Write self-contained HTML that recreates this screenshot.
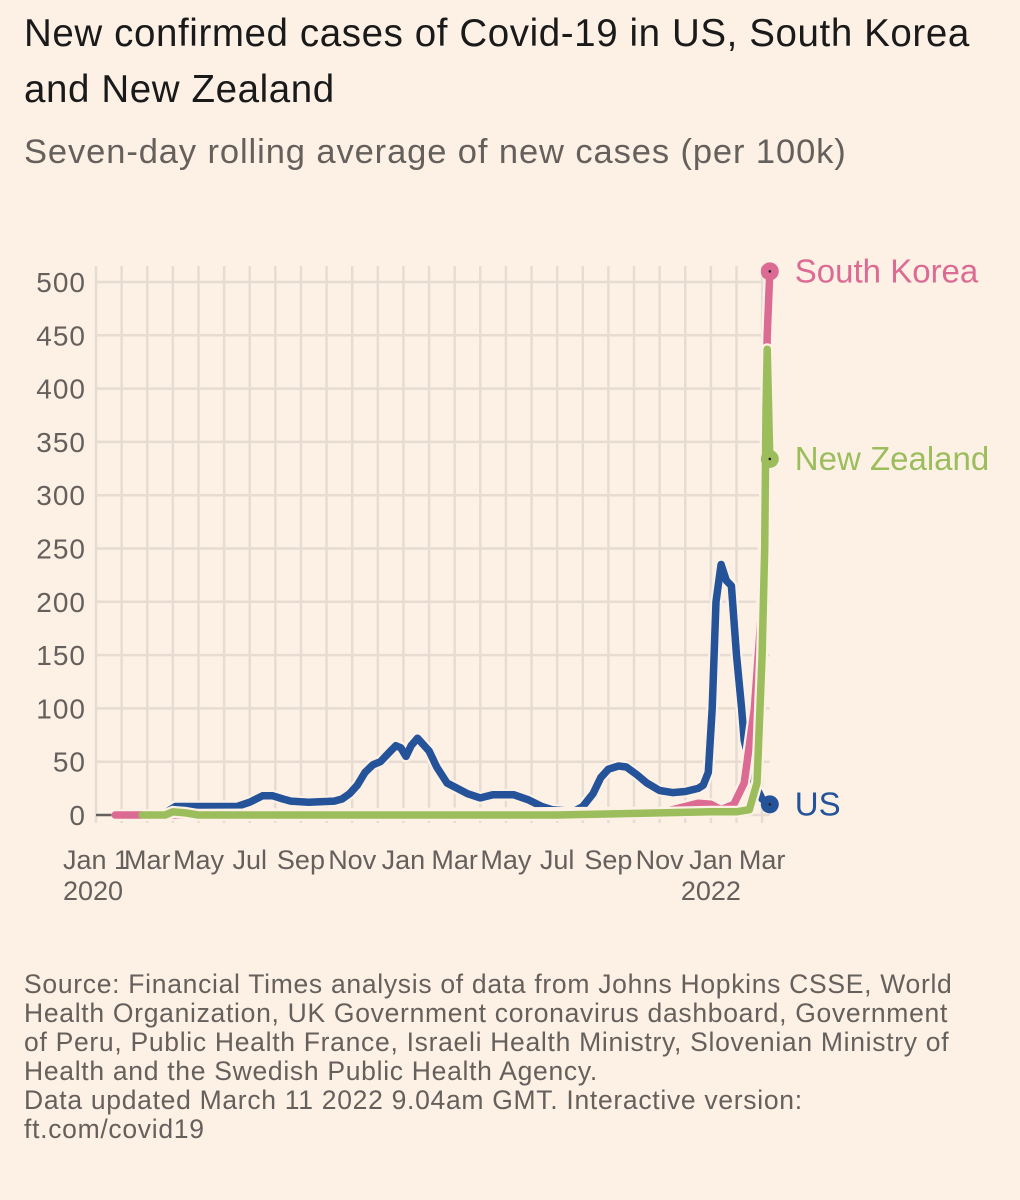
<!DOCTYPE html>
<html><head><meta charset="utf-8">
<style>
html,body{margin:0;padding:0;background:#fdf1e6;}
body{width:1020px;height:1200px;overflow:hidden;position:relative;font-family:"Liberation Sans","DejaVu Sans",sans-serif;}
.t{position:absolute;left:24px;margin:0;}
</style></head><body>
<div class="t" style="top:6px;font-size:38.5px;letter-spacing:0.6px;line-height:56px;color:#1a1a1a;white-space:nowrap;">New confirmed cases of Covid-19 in US, South Korea<br>and New Zealand</div>
<div class="t" style="top:133px;font-size:34.5px;letter-spacing:0.9px;color:#66605c;white-space:nowrap;">Seven-day rolling average of new cases (per 100k)</div>
<svg id="chart" width="1020" height="700" style="position:absolute;left:0;top:230px;overflow:hidden"></svg>
<div class="t" style="top:970px;font-size:26.5px;letter-spacing:0.7px;line-height:29px;color:#66605c;white-space:nowrap;">Source: Financial Times analysis of data from Johns Hopkins CSSE, World<br>Health Organization, UK Government coronavirus dashboard, Government<br>of Peru, Public Health France, Israeli Health Ministry, Slovenian Ministry of<br>Health and the Swedish Public Health Agency.<br>Data updated March 11 2022 9.04am GMT. Interactive version:<br>ft.com/covid19</div>
<script>
// months since Jan 2020
const yTicks=[0,50,100,150,200,250,300,350,400,450,500];
const xLabels=[["Jan 1",0,"2020"],["Mar",2,""],["May",4,""],["Jul",6,""],["Sep",8,""],["Nov",10,""],["Jan",12,""],["Mar",14,""],["May",16,""],["Jul",18,""],["Sep",20,""],["Nov",22,""],["Jan",24,"2022"],["Mar",26,""]];
const usT=[2.6,2.9,3.1,4,5,5.5,6,6.5,6.9,7.3,7.6,8.3,9.3,9.6,9.9,10.2,10.5,10.8,11.1,11.5,11.7,11.9,12.1,12.3,12.55,13,13.3,13.7,14.5,15,15.5,16.3,16.9,17.4,17.8,18.3,18.7,19,19.4,19.7,20,20.4,20.7,21.1,21.5,22,22.5,23,23.5,23.7,23.9,24.05,24.2,24.4,24.6,24.8,25,25.2,25.3,25.7,26,26.3];
const usV=[0,5,8,8,8,8,12,18,18,15,13,12,13,15,20,28,40,47,50,60,65,63,55,65,72,60,45,30,20,16,19,19,14,8,5,4,4,8,20,35,43,46,45,38,30,23,21,22,25,28,40,100,200,235,220,215,150,100,70,30,15,10];
const skT=[0.75,1.7,18.6,20,22,23,23.5,24,24.4,24.9,25.3,25.7,26,26.1,26.2,26.3];
const skV=[0,0,2,2,2,8,11,10,5,10,30,100,200,280,450,510];
const nzT=[1.8,2.7,3,3.5,4,8,18,22,24,25,25.5,25.8,26,26.1,26.15,26.2,26.3];
const nzV=[0,0,3,2,0,0,0,2,3,3,5,30,150,250,380,437,334];
const X0=96,MW=25.62,Y0=585,YS=1.066;
const x=m=>X0+m*MW, y=v=>Y0-v*YS;
const svg=document.getElementById('chart');const NS="http://www.w3.org/2000/svg";
function mk(t,a){const e=document.createElementNS(NS,t);for(const k in a)e.setAttribute(k,a[k]);svg.appendChild(e);return e;}
for(let m=0;m<=26;m++){const g=mk('line',{x1:x(m),x2:x(m),y1:y(515),y2:y(0)+8,stroke:'#e6dcd2','stroke-width':2.5});

}
yTicks.forEach(v=>{const g=mk('line',{x1:x(0),x2:x(26.3),y1:y(v),y2:y(v),stroke:'#e6dcd2','stroke-width':2.5});


const t=mk('text',{x:86,y:y(v)+10,'text-anchor':'end','font-size':28,'letter-spacing':1,fill:'#66605c'});t.textContent=v;

});
const zl=mk('line',{x1:x(0),x2:x(0.6),y1:y(0),y2:y(0),stroke:'#66605c','stroke-width':2.5});


xLabels.forEach(([l,m,yr])=>{const t=mk('text',{x:l==="Jan 1"?63:x(m),y:y(0)+54,'text-anchor':l==="Jan 1"?'start':'middle','font-size':27,fill:'#66605c'});t.textContent=l;


if(yr){const u=mk('text',{x:l==="Jan 1"?63:x(m),y:y(0)+85,'text-anchor':l==="Jan 1"?'start':'middle','font-size':27,fill:'#66605c'});u.textContent=yr;

}});
function line(T,V,c,name){const d=T.map((t,i)=>(i?'L':'M')+x(t).toFixed(1)+','+y(V[i]).toFixed(1)).join('');
const h=mk('path',{d:d,fill:'none',stroke:'#fdf1e6','stroke-width':12,'stroke-linejoin':'round'});


const p=mk('path',{d:d,fill:'none',stroke:c,'stroke-width':7.5,'stroke-linejoin':'round','stroke-linecap':'round'});

}
line(usT,usV,'#24539a','us');
line(skT,skV,'#dc6b93','south-korea');
line(nzT,nzV,'#9bbd5c','new-zealand');
function end(T,V,c,lab,name){const ex=x(T[T.length-1]),ey=y(V[V.length-1]);
const d=mk('circle',{cx:ex,cy:ey,r:9,fill:c});


mk('circle',{cx:ex,cy:ey,r:1.3,fill:'#222'});
const t=mk('text',{x:ex+25,y:ey+11,'font-size':33,fill:c});t.textContent=lab;

}
end(skT,skV,'#dc6b93','South Korea','south-korea');
end(nzT,nzV,'#9bbd5c','New Zealand','new-zealand');
end(usT,usV,'#24539a','US','us');
</script>
</body></html>
